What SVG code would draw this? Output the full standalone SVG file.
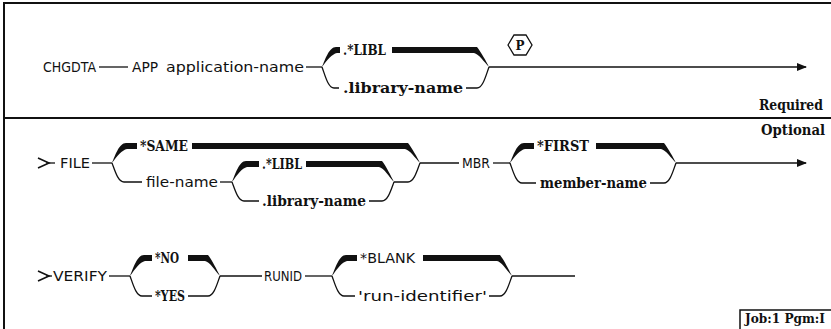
<svg xmlns="http://www.w3.org/2000/svg" width="831" height="329" viewBox="0 0 831 329">
<style>
.bg{fill:#fff}
.ln{fill:none;stroke:#111;stroke-width:1.3}
.frame{fill:none;stroke:#111;stroke-width:2}
.th{fill:#111;stroke:none}
.r{font-family:"DejaVu Sans",sans-serif;font-size:14px;fill:#111}
.b{font-family:"DejaVu Serif",serif;font-size:14px;font-weight:bold;fill:#111}
</style>
<defs>
<marker id="ah" markerWidth="10" markerHeight="8" refX="9" refY="4" orient="auto" markerUnits="userSpaceOnUse">
<path d="M0,0 L10,4 L0,8 Z" fill="#111"/>
</marker>
</defs>
<rect class="bg" x="0" y="0" width="831" height="329"/>
<g id="frame">
<path class="frame" d="M4,329 V3 H831"/>
<path class="frame" d="M4,118 H831"/>
<path class="frame" d="M740,329 V310 H831" style="stroke-width:1.5"/>
</g>
<g id="connectors">
<path class="ln" d="M99,67 H128"/>
<path class="ln" d="M306,67 H322"/>
<path class="ln" d="M489,67 H806" marker-end="url(#ah)"/>
<path class="th" d="M322,67 C325,60 329,47 336,47 L340,47 L340,53 L337,53 C332,54 327,60 322,67 Z"/>
<path class="ln" d="M322,67 C325,75 328,88 334,88 L339,88"/>
<path class="th" d="M392,47 L477,47 C481,52 486,61 489,67 C484,62 479,54 474,53 L392,53 Z"/>
<path class="ln" d="M466,88 L477,88 C483,88 486,75 489,67"/>
<path class="ln" d="M38,158 L49,163 L38,168" style="stroke-width:1.6"/>
<path class="ln" d="M46,163 H55"/>
<path class="ln" d="M92,163 H112"/>
<path class="th" d="M112,163 C115,156 119,143 126,143 L137,143 L137,149 L127,149 C122,150 117,156 112,163 Z"/>
<path class="ln" d="M112,163 C115,171 118,182 124,182 L142,182"/>
<path class="th" d="M192,143 L408,143 C412,148 417,157 420,163 C415,158 410,150 405,149 L192,149 Z"/>
<path class="ln" d="M220,182 H232"/>
<path class="th" d="M232,182 C235,175 239,161 246,161 L259,161 L259,167 L247,167 C242,168 237,175 232,182 Z"/>
<path class="ln" d="M232,182 C235,190 238,201 244,201 L259,201"/>
<path class="th" d="M306,161 L382,161 C386,166 391,176 394,182 C389,177 384,168 379,167 L306,167 Z"/>
<path class="ln" d="M369,201 L382,201 C388,201 391,190 394,182"/>
<path class="ln" d="M394,182 L408,182 C414,182 417,171 420,163"/>
<path class="ln" d="M420,163 H459"/>
<path class="ln" d="M493,163 H510"/>
<path class="th" d="M510,163 C513,156 517,143 524,143 L534,143 L534,149 L525,149 C520,150 515,156 510,163 Z"/>
<path class="ln" d="M510,163 C513,171 516,183 522,183 L536,183"/>
<path class="th" d="M596,143 L664,143 C668,148 673,157 676,163 C671,158 666,150 661,149 L596,149 Z"/>
<path class="ln" d="M650,183 L664,183 C670,183 673,171 676,163"/>
<path class="ln" d="M676,163 H806" marker-end="url(#ah)"/>
<path class="ln" d="M38,271 L49,276 L38,281" style="stroke-width:1.6"/>
<path class="ln" d="M46,276 H52"/>
<path class="ln" d="M109,276 H130"/>
<path class="th" d="M130,276 C133,269 137,255 144,255 L152,255 L152,261 L145,261 C140,262 135,269 130,276 Z"/>
<path class="ln" d="M130,276 C133,284 136,296 142,296 L152,296"/>
<path class="th" d="M188,255 L208,255 C212,260 217,270 220,276 C215,271 210,262 205,261 L188,261 Z"/>
<path class="ln" d="M188,296 L208,296 C214,296 217,284 220,276"/>
<path class="ln" d="M220,276 H262"/>
<path class="ln" d="M305,276 H332"/>
<path class="th" d="M332,276 C335,269 339,255 346,255 L357,255 L357,261 L347,261 C342,262 337,269 332,276 Z"/>
<path class="ln" d="M332,276 C335,284 338,296 344,296 L355,296"/>
<path class="th" d="M423,255 L500,255 C504,260 509,270 512,276 C507,271 502,262 497,261 L423,261 Z"/>
<path class="ln" d="M489,296 L500,296 C506,296 509,284 512,276"/>
<path class="ln" d="M512,276 H575"/>
</g>
<g id="n-chgdta"><text class="r" x="43" y="72" textLength="53" lengthAdjust="spacingAndGlyphs">CHGDTA</text></g>
<g id="n-app"><text class="r" x="132" y="72" textLength="26" lengthAdjust="spacingAndGlyphs">APP</text></g>
<g id="n-appname"><text class="r" x="166" y="72" textLength="138" lengthAdjust="spacingAndGlyphs">application-name</text></g>
<g id="n-libl1"><text class="b" x="343" y="55" textLength="43" lengthAdjust="spacingAndGlyphs">.*LIBL</text></g>
<g id="n-libname1"><text class="b" x="343" y="93" textLength="120" lengthAdjust="spacingAndGlyphs">.library-name</text></g>
<g id="n-p">
<polygon class="ln" points="508,45 514,35 526,35 532,45 526,55 514,55"/>
<text class="b" x="520" y="50" text-anchor="middle" style="font-size:12px">P</text>
</g>
<g id="n-required"><text class="b" x="759" y="110" textLength="64" lengthAdjust="spacingAndGlyphs">Required</text></g>
<g id="n-optional"><text class="b" x="761" y="135" textLength="64" lengthAdjust="spacingAndGlyphs">Optional</text></g>
<g id="n-file"><text class="r" x="60" y="168" textLength="30" lengthAdjust="spacingAndGlyphs">FILE</text></g>
<g id="n-same"><text class="b" x="140" y="151" textLength="48" lengthAdjust="spacingAndGlyphs">*SAME</text></g>
<g id="n-filename"><text class="r" x="146" y="187" textLength="72" lengthAdjust="spacingAndGlyphs">file-name</text></g>
<g id="n-libl2"><text class="b" x="262" y="169" textLength="40" lengthAdjust="spacingAndGlyphs">.*LIBL</text></g>
<g id="n-libname2"><text class="b" x="262" y="206" textLength="104" lengthAdjust="spacingAndGlyphs">.library-name</text></g>
<g id="n-mbr"><text class="r" x="462" y="168" textLength="28" lengthAdjust="spacingAndGlyphs">MBR</text></g>
<g id="n-first"><text class="b" x="537" y="151" textLength="52" lengthAdjust="spacingAndGlyphs">*FIRST</text></g>
<g id="n-member"><text class="b" x="540" y="188" textLength="107" lengthAdjust="spacingAndGlyphs">member-name</text></g>
<g id="n-verify"><text class="r" x="53" y="281" textLength="54" lengthAdjust="spacingAndGlyphs">VERIFY</text></g>
<g id="n-no"><text class="b" x="155" y="263" textLength="24" lengthAdjust="spacingAndGlyphs">*NO</text></g>
<g id="n-yes"><text class="b" x="155" y="301" textLength="30" lengthAdjust="spacingAndGlyphs">*YES</text></g>
<g id="n-runid"><text class="r" x="264" y="281" textLength="38" lengthAdjust="spacingAndGlyphs">RUNID</text></g>
<g id="n-blank"><text class="r" x="360" y="263" textLength="55" lengthAdjust="spacingAndGlyphs">*BLANK</text></g>
<g id="n-runident"><text class="r" x="358" y="301" textLength="129" lengthAdjust="spacingAndGlyphs">'run-identifier'</text></g>
<g id="n-job"><text class="b" x="745" y="323" textLength="80" lengthAdjust="spacingAndGlyphs" style="font-size:13px">Job:1 Pgm:I</text></g>
</svg>
